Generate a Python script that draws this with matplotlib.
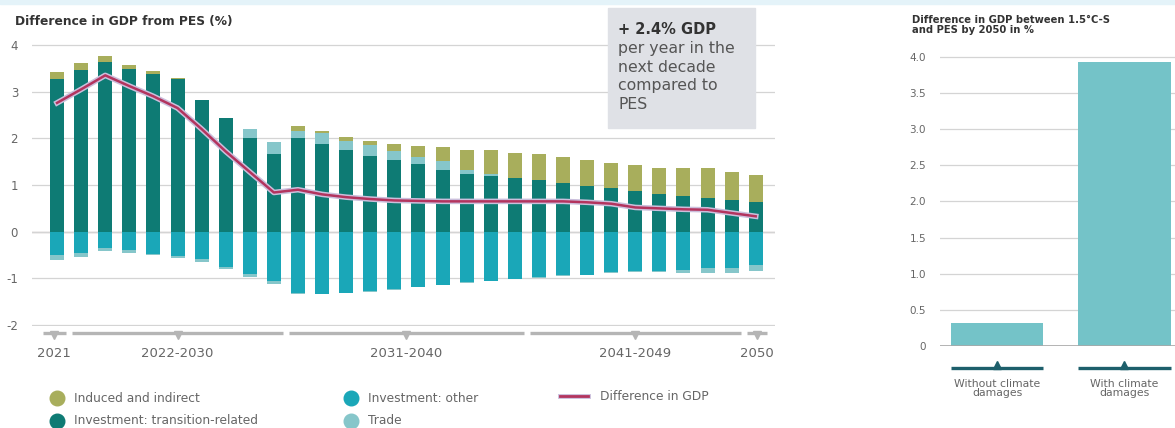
import numpy as np
import matplotlib
matplotlib.use("Agg")
import matplotlib.pyplot as plt
import matplotlib.transforms as mtransforms
import matplotlib.patheffects as pe
from matplotlib.lines import Line2D
from matplotlib.patches import Rectangle

plt.rcParams['font.family'] = ['DejaVu Sans']

# Data
years = list(range(2021, 2051))
transition = [3.28, 3.46, 3.63, 3.49, 3.38, 3.28, 2.83, 2.44, 2.01, 1.66,
              2.00, 1.87, 1.74, 1.62, 1.53, 1.44, 1.33, 1.24, 1.19, 1.14,
              1.10, 1.05, 0.98, 0.93, 0.87, 0.80, 0.76, 0.73, 0.68, 0.63]
trade_pos = [0, 0, 0, 0, 0, 0, 0, 0, 0.18, 0.26,
             0.15, 0.24, 0.20, 0.23, 0.20, 0.16, 0.18, 0.09, 0.04, 0.02,
             0, 0, 0, 0, 0, 0, 0, 0, 0, 0]
induced = [0.15, 0.16, 0.13, 0.09, 0.06, 0.02, 0, 0, 0, 0,
           0.11, 0.04, 0.09, 0.09, 0.15, 0.23, 0.30, 0.41, 0.51, 0.53,
           0.56, 0.55, 0.55, 0.55, 0.55, 0.56, 0.60, 0.63, 0.60, 0.58]
invest_other = [-0.49, -0.45, -0.34, -0.40, -0.47, -0.52, -0.59, -0.75, -0.91, -1.06,
                -1.32, -1.33, -1.31, -1.28, -1.23, -1.18, -1.14, -1.08, -1.05, -1.01,
                -0.98, -0.93, -0.92, -0.87, -0.85, -0.84, -0.81, -0.77, -0.77, -0.71]
trade_neg = [-0.12, -0.09, -0.07, -0.05, -0.03, -0.04, -0.05, -0.04, -0.05, -0.05,
             -0.02, -0.01, -0.01, -0.01, -0.01, -0.01, -0.01, -0.01, -0.01, -0.01,
             -0.01, -0.01, -0.01, -0.01, -0.01, -0.02, -0.07, -0.11, -0.11, -0.13]
gdp_diff = [2.76, 3.05, 3.35, 3.12, 2.90, 2.65, 2.20, 1.72, 1.28, 0.84,
            0.90, 0.80, 0.74, 0.70, 0.67, 0.66, 0.65, 0.65, 0.65, 0.65,
            0.65, 0.65, 0.63, 0.60, 0.52, 0.50, 0.48, 0.47, 0.40, 0.33]
periods = ["2021", "2022-2030", "2031-2040", "2041-2049", "2050"]
period_spans = [(0, 0), (1, 9), (10, 19), (20, 28), (29, 29)]

scenarios = ["Without climate\ndamages", "With climate\ndamages"]
gdp_2050 = [0.31, 3.93]

c_trans = '#0e7b74'
c_other = '#1aa7b8'
c_trade = '#86c6ca'
c_induced = '#a8ae5c'
c_line = '#b3345e'
c_grid = '#d4d4d4'
c_text = '#666666'

fig = plt.figure(figsize=(11.75, 4.28), dpi=100)
W, H = 1175, 428

# faint band along the top edge
fig.patches.append(Rectangle((0, 1 - 4 / H), 1, 4 / H, transform=fig.transFigure,
                             color='#e4f3f9', zorder=0))

# ---- left chart ----
ax = fig.add_axes([32 / W, (H - 326) / H, (775 - 32) / W, 288 / H])
x = np.arange(len(years))
bw = 0.58
t = np.array(transition)
tp = np.array(trade_pos)
ax.bar(x, transition, bw, color=c_trans, zorder=2)
ax.bar(x, trade_pos, bw, bottom=t, color=c_trade, zorder=2)
ax.bar(x, induced, bw, bottom=t + tp, color=c_induced, zorder=2)
ax.bar(x, invest_other, bw, color=c_other, zorder=2)
ax.bar(x, trade_neg, bw, bottom=invest_other, color=c_trade, zorder=2)
ax.plot(x, gdp_diff, color=c_line, lw=1.8, zorder=3,
        path_effects=[pe.Stroke(linewidth=4, foreground='#cbbfdc'), pe.Normal()])

ax.set_xlim(-1.04, 29.8)
ax.set_ylim(-2.02, 4.15)
ax.set_yticks(range(-2, 5))
ax.set_yticklabels([str(v) for v in range(-2, 5)])
ax.tick_params(axis='y', length=0, pad=10, labelsize=8.5, labelcolor=c_text)
ax.set_xticks([])
for s in ax.spines.values():
    s.set_visible(False)
ax.grid(axis='y', color=c_grid, lw=0.9, zorder=0)
ax.axhline(0, color='#c9bcbc', lw=1.0, zorder=1)

# period brackets
tr = mtransforms.blended_transform_factory(ax.transData, ax.transAxes)
for i, (a, b) in enumerate(period_spans):
    x0 = a - 0.38 if i > 0 else -0.6
    x1 = b + 0.38 if i < len(period_spans) - 1 else b + 0.45
    ax.plot([x0, x1], [-0.024, -0.024], color='#b5b5b5', lw=2.4, transform=tr,
            clip_on=False, solid_capstyle='butt')
    xc = (x0 + x1) / 2
    ax.plot([xc], [-0.031], marker='v', ms=5.5, color='#b5b5b5', transform=tr, clip_on=False)
    ax.text(xc, -0.094, periods[i], transform=tr, ha='center', va='center',
            fontsize=9.5, color=c_text)

fig.text(15 / W, 1 - 21 / H, "Difference in GDP from PES (%)", fontsize=8.8,
         fontweight='bold', color='#333333', va='center')

# annotation box
fig.patches.append(Rectangle((608 / W, 1 - 128 / H), (755 - 608) / W, 120 / H,
                             transform=fig.transFigure, color='#dfe1e6', zorder=5))
fig.text(618 / W, 1 - 30 / H, "+ 2.4% GDP", fontsize=10.5, fontweight='bold',
         color='#333333', va='center', zorder=6)
fig.text(618 / W, 1 - 41 / H, "per year in the\nnext decade\ncompared to\nPES",
         fontsize=11.3, color='#555555', va='top', linespacing=1.3, zorder=6)

# legend
def leg_marker(px, py, color, label):
    fig.lines.append(Line2D([px / W], [1 - py / H], marker='o', ms=10.5, color=color,
                            lw=0, transform=fig.transFigure))
    fig.text((px + 17) / W, 1 - py / H, label, fontsize=8.8, color=c_text, va='center')

leg_marker(57, 398, c_induced, "Induced and indirect")
leg_marker(57, 421, c_trans, "Investment: transition-related")
leg_marker(351, 398, c_other, "Investment: other")
leg_marker(351, 421, c_trade, "Trade")
fig.lines.append(Line2D([560 / W, 588 / W], [1 - 396 / H] * 2, color=c_line, lw=2,
                        transform=fig.transFigure,
                        path_effects=[pe.Stroke(linewidth=3.5, foreground='#cbbfdc'), pe.Normal()]))
fig.text(600 / W, 1 - 396 / H, "Difference in GDP", fontsize=8.8, color=c_text, va='center')

# ---- right chart ----
ax2 = fig.add_axes([940 / W, (H - 345.7) / H, 235 / W, 295.7 / H])
xr = np.arange(len(scenarios))
ax2.bar(xr, gdp_2050, 0.73, color='#74c3c8', zorder=2)
ax2.set_xlim(-0.449, 1.40)
ax2.set_ylim(0, 4.1)
ax2.set_yticks(np.arange(0, 4.01, 0.5))
ax2.set_yticklabels(["0"] + ["%.1f" % v for v in np.arange(0.5, 4.01, 0.5)])
ax2.tick_params(axis='y', length=0, pad=10, labelsize=7.5, labelcolor=c_text)
ax2.set_xticks([])
for s in ax2.spines.values():
    s.set_visible(False)
ax2.grid(axis='y', color=c_grid, lw=0.9, zorder=0)
ax2.axhline(0, color='#a8a8a8', lw=1.2, zorder=3)
tr2 = mtransforms.blended_transform_factory(ax2.transData, ax2.transAxes)
for i, lab in enumerate(scenarios):
    ax2.plot([i - 0.365, i + 0.365], [-0.074, -0.074], color='#1d5f6b', lw=2.4,
             transform=tr2, clip_on=False, solid_capstyle='butt')
    ax2.plot([i], [-0.066], marker='^', ms=5.5, color='#1d5f6b', transform=tr2, clip_on=False)
    ax2.text(i, -0.145, lab, transform=tr2, ha='center', va='center', fontsize=7.8,
             color=c_text, linespacing=0.95)

fig.text(912 / W, 1 - 25 / H, "Difference in GDP between 1.5°C-S\nand PES by 2050 in %",
         fontsize=7.2, fontweight='bold', color='#333333', va='center', linespacing=1.05)

fig.savefig("out.png", dpi=100)
